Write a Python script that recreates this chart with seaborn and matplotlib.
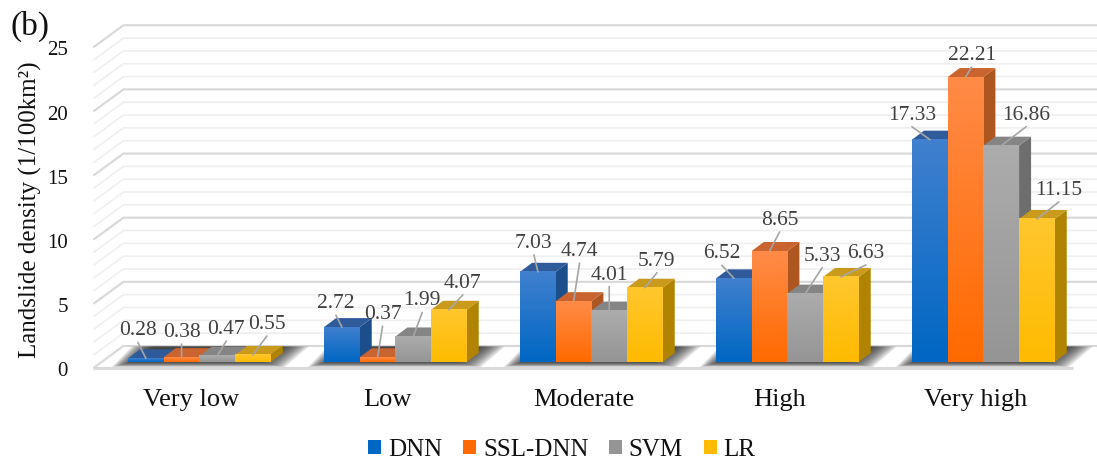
import numpy as np
import pandas as pd
import matplotlib
matplotlib.use("Agg")
import matplotlib.pyplot as plt
from matplotlib.colors import LinearSegmentedColormap
from matplotlib.patches import Polygon
from matplotlib.transforms import ScaledTranslation
import seaborn as sns

# Landslide density per susceptibility class
categories = ["Very low", "Low", "Moderate", "High", "Very high"]
models = ["DNN", "SSL-DNN", "SVM", "LR"]
dnn = [0.28, 2.72, 7.03, 6.52, 17.33]
ssl_dnn = [0.38, 0.37, 4.74, 8.65, 22.21]
svm = [0.47, 1.99, 4.01, 5.33, 16.86]
lr = [0.55, 4.07, 5.79, 6.63, 11.15]

# Leader-line ends for the value labels, pixels from the top of each bar
leader_dnn = [(-8, 16), (-6, 12), (-4, 17), (-12, 13), (-18, 13)]
leader_ssl = [(0, 13), (5, 31), (6, 38), (10, 19), (6, 10)]
leader_svm = [(9, 15), (9, 24), (0, 24), (17, 26), (25, 19)]
leader_lr = [(14, 19), (14, 15), (12, 15), (25, 12), (22, 17)]

# Face colours: gradient top, gradient bottom, top face, side face
grad_top = ["#4080CE", "#FF8B47", "#ACACAC", "#FFC72E"]
grad_bottom = ["#0067C4", "#FF6A00", "#959595", "#FFBB00"]
top_face = ["#2F5B9A", "#C9632F", "#858585", "#C99A1C"]
side_face = ["#1D4E8C", "#AE5620", "#6E6E6E", "#B08400"]

W, H = 1097, 463
PX_PER_CAT = 196.0
PX_PER_UNIT = 12.83
BASE_Y = 362
TOP_Y = 20
LEFT_X = 101.4
BAR_WIDTH = 0.728
DEPTH = (12, 9)       # bar depth on screen
BACK = (22, 16)       # bar plane to back wall
FRONT = (-8, -6)      # bar plane to front edge of the floor

sns.set_theme(style="white")
plt.rcParams["font.family"] = ["Liberation Serif", "DejaVu Serif"]

fig = plt.figure(figsize=(W / 100, H / 100), dpi=100)
ax = fig.add_axes([LEFT_X / W, (H - BASE_Y) / H,
                   5 * PX_PER_CAT / W, (BASE_Y - TOP_Y) / H])

table = pd.DataFrame({
    "category": np.tile(categories, len(models)),
    "model": np.repeat(models, len(categories)),
    "density": np.concatenate([dnn, ssl_dnn, svm, lr]),
})
sns.barplot(data=table, x="category", y="density", hue="model",
            order=categories, hue_order=models, palette=grad_bottom,
            width=BAR_WIDTH, gap=0, saturation=1, linewidth=0, ax=ax)

xlim = (-0.5, 4.5)
ylim = (0, (BASE_Y - TOP_Y) / PX_PER_UNIT)


def shift(x, v, offset):
    """Move a data point by a screen offset in pixels."""
    return x + offset[0] / PX_PER_CAT, v + offset[1] / PX_PER_UNIT


# Walls: one unit gridlines, with every fifth stronger
for v in range(0, 26):
    major = v % 5 == 0
    p0 = shift(xlim[0], v, FRONT)
    p1 = shift(xlim[0], v, BACK)
    p2 = shift(xlim[1], v, BACK)
    ax.plot([p0[0], p1[0], p2[0]], [p0[1], p1[1], p2[1]],
            color="#D8D8D8" if major else "#EFEFEF",
            lw=1.5 if major else 1.2, clip_on=False, zorder=1,
            solid_capstyle="butt")

# Front edge of the floor
p0, p1 = shift(xlim[0], 0, FRONT), shift(xlim[1], 0, FRONT)
ax.plot([p0[0], p1[0]], [p0[1], p1[1]], color="#DADADA", lw=2.2,
        clip_on=False, zorder=1, solid_capstyle="butt")

# Soft shadow on the floor, built up from nested parallelograms
for i in range(len(categories)):
    left, right = i - BAR_WIDTH / 2, i + BAR_WIDTH / 2
    for k in range(12):
        t = k * 2.0
        front_v = (-5 + 0.25 * t)
        corners = [
            shift(left, 0, (-16 + t, front_v)),
            shift(right, 0, (14 - 1.2 * t, front_v)),
            shift(right, 0, (38 - 1.2 * t, 15.5)),
            shift(left, 0, (4 + t, 15.5)),
        ]
        ax.add_patch(Polygon(corners, closed=True, facecolor="#262626",
                             edgecolor="none", alpha=0.14, clip_on=False,
                             zorder=2))

# Bars: side and top faces behind each gradient front, painted left to right
for j, container in enumerate(ax.containers):
    cmap = LinearSegmentedColormap.from_list(models[j], [grad_top[j], grad_bottom[j]])
    for i, patch in enumerate(container):
        z = 3 + i + j * 0.1
        x0, x1 = patch.get_x(), patch.get_x() + patch.get_width()
        h = patch.get_height()
        side = [(x1, 0), (x1, h), shift(x1, h, DEPTH), shift(x1, 0, DEPTH)]
        top = [(x0, h), (x1, h), shift(x1, h, DEPTH), shift(x0, h, DEPTH)]
        ax.add_patch(Polygon(side, closed=True, facecolor=side_face[j],
                             edgecolor="none", clip_on=False, zorder=z))
        ax.add_patch(Polygon(top, closed=True, facecolor=top_face[j],
                             edgecolor="none", clip_on=False, zorder=z))
        patch.set_zorder(z + 0.01)
        ax.imshow(np.linspace(0, 1, 64)[:, None], extent=(x0, x1, 0, h),
                  cmap=cmap, aspect="auto", origin="upper", zorder=z + 0.02,
                  interpolation="bilinear")

# Value labels with thin leader lines
leaders = [leader_dnn, leader_ssl, leader_svm, leader_lr]
for j, container in enumerate(ax.containers):
    for i, patch in enumerate(container):
        xc = patch.get_x() + patch.get_width() / 2
        h = patch.get_height()
        dx, dy = leaders[j][i]
        to_pt = 72 / fig.dpi
        ax.annotate("", xy=(xc, h), xytext=(dx * to_pt, dy * to_pt),
                    textcoords="offset points", zorder=20,
                    arrowprops=dict(arrowstyle="-", color="#A6A6A6", lw=1.2,
                                    shrinkA=0, shrinkB=0))
        ax.annotate(f"{h:.2f}", xy=(xc, h),
                    xytext=(dx * to_pt, (dy + 7) * to_pt),
                    textcoords="offset points", ha="center", va="baseline",
                    fontsize=15.5, color="#404040", zorder=21,
                    annotation_clip=False)

ax.set_xlim(xlim)
ax.set_ylim(ylim)
ax.set_xlabel("")
ax.set_ylabel("")
sns.despine(ax=ax, left=True, bottom=True)
ax.grid(False)
ax.patch.set_alpha(0)

ax.set_yticks(range(0, 30, 5))
ax.tick_params(axis="y", length=0, pad=24, labelsize=15, labelcolor="#111111")
ax.tick_params(axis="x", length=0, pad=19.5, labelsize=19, labelcolor="#111111")

# The axis labels sit on the front plane rather than on the bar plane
for tick in ax.yaxis.get_major_ticks():
    tick.label1.set_transform(tick.label1.get_transform()
                              + ScaledTranslation(0, FRONT[1] * 1.2 / 100, fig.dpi_scale_trans))
for tick in ax.xaxis.get_major_ticks():
    tick.label1.set_transform(tick.label1.get_transform()
                              + ScaledTranslation(FRONT[0] / 100, 0, fig.dpi_scale_trans))

fig.text(30 / W, 1 - 210 / H, "Landslide density (1/100km²)", rotation=90,
         ha="center", va="center", fontsize=18, color="#111111")
fig.text(10 / W, 1 - 35 / H, "(b)", fontsize=24, color="#111111")

sns.move_legend(ax, "center", bbox_to_anchor=(562 / W, 1 - 450 / H),
                bbox_transform=fig.transFigure, ncol=4, frameon=False,
                title=None, fontsize=18, handlelength=0.52, handleheight=0.52,
                handletextpad=0.28, columnspacing=0.82, borderpad=0,
                labelcolor="#111111")

fig.savefig("out.png", dpi=100, facecolor="white")
